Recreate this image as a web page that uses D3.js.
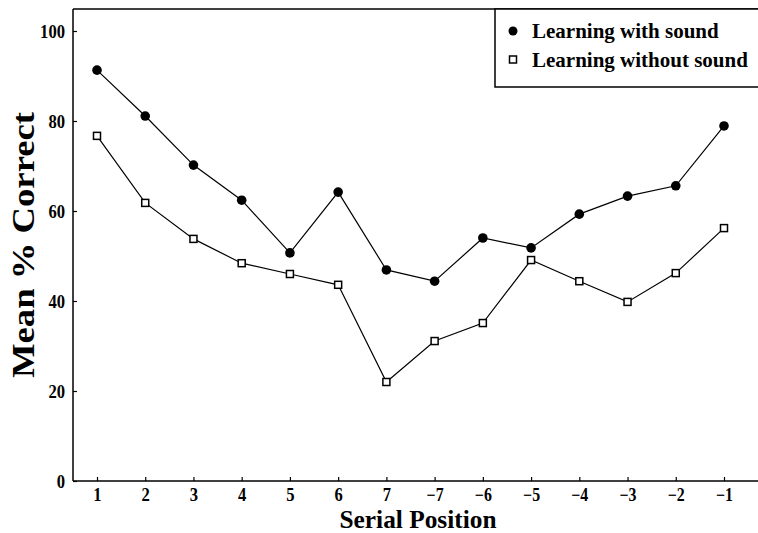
<!DOCTYPE html>
<html>
<head>
<meta charset="utf-8">
<script src="https://cdn.jsdelivr.net/npm/d3@7"></script>
<style>
  body { margin: 0; background: #fff; }
  text { font-family: "Liberation Serif", "DejaVu Serif", serif; font-weight: bold; }
</style>
</head>
<body>
<div id="chart"></div>
<script>
const positions = ['1', '2', '3', '4', '5', '6', '7', '−7', '−6', '−5', '−4', '−3', '−2', '−1'];
const withSound = [91.3, 81.1, 70.2, 62.4, 50.7, 64.2, 46.9, 44.4, 54.0, 51.8, 59.3, 63.3, 65.6, 78.9];
const withoutSound = [76.7, 61.8, 53.8, 48.4, 46.0, 43.6, 22.0, 31.1, 35.1, 49.1, 44.4, 39.8, 46.2, 56.2];
const yTicks = [0, 20, 40, 60, 80, 100];
const seriesNames = ['Learning with sound', 'Learning without sound'];

const width = 758;
const height = 533;
const margin = { top: 9, right: 0, bottom: 52, left: 73 };

const svg = d3.select('#chart')
  .append('svg')
  .attr('width', width)
  .attr('height', height);

const x = d3.scalePoint()
  .domain(positions)
  .range([97, 724]);

const y = d3.scaleLinear()
  .domain([0, 105])
  .range([height - margin.bottom, height - margin.bottom - 105 * 4.5]);

// frame: left axis, bottom axis, top line
const frame = svg.append('g').attr('stroke', '#000').attr('stroke-width', 1.5);
frame.append('line')
  .attr('x1', margin.left).attr('x2', margin.left)
  .attr('y1', margin.top).attr('y2', y(0));
frame.append('line')
  .attr('x1', margin.left).attr('x2', width)
  .attr('y1', y(0)).attr('y2', y(0));
frame.append('line')
  .attr('x1', margin.left).attr('x2', width)
  .attr('y1', margin.top).attr('y2', margin.top);

// y axis
const yAxis = svg.append('g')
  .attr('transform', `translate(${margin.left},0)`)
  .call(d3.axisLeft(y).tickValues(yTicks).tickSize(4).tickPadding(4));
yAxis.select('.domain').remove();
yAxis.selectAll('line').attr('stroke-width', 1.2).attr('transform', 'translate(4,0)');
yAxis.selectAll('text')
  .attr('font-size', 19)
  .attr('fill', '#000')
  .attr('font-family', '"Liberation Serif", serif')
  .attr('font-weight', 'bold')
  .attr('textLength', (d) => String(d).length * 8.3)
  .attr('lengthAdjust', 'spacingAndGlyphs');

// x axis
const xAxis = svg.append('g')
  .attr('transform', `translate(0,${y(0)})`)
  .call(d3.axisBottom(x).tickSize(4).tickPadding(3));
xAxis.select('.domain').remove();
xAxis.selectAll('line').attr('stroke-width', 1.2).attr('transform', 'translate(0,-4)');
xAxis.selectAll('text')
  .attr('font-size', 18)
  .attr('fill', '#000')
  .attr('font-family', '"Liberation Serif", serif')
  .attr('font-weight', 'bold')
  .attr('textLength', (d) => (d.length > 1 ? 17 : 8.3))
  .attr('lengthAdjust', 'spacingAndGlyphs');

// axis titles
svg.append('text')
  .attr('x', 418)
  .attr('y', 528)
  .attr('text-anchor', 'middle')
  .attr('font-size', 25)
  .attr('textLength', 157)
  .attr('lengthAdjust', 'spacingAndGlyphs')
  .text('Serial Position');

svg.append('text')
  .attr('transform', 'translate(34,245) rotate(-90)')
  .attr('text-anchor', 'middle')
  .attr('font-size', 32)
  .attr('textLength', 266)
  .attr('lengthAdjust', 'spacingAndGlyphs')
  .text('Mean % Correct');

// lines
const line = d3.line()
  .x((d, i) => x(positions[i]))
  .y((d) => y(d));

svg.append('path')
  .datum(withSound)
  .attr('d', line)
  .attr('fill', 'none')
  .attr('stroke', '#000')
  .attr('stroke-width', 1.2);

svg.append('path')
  .datum(withoutSound)
  .attr('d', line)
  .attr('fill', 'none')
  .attr('stroke', '#000')
  .attr('stroke-width', 1.2);

svg.append('g')
  .selectAll('circle')
  .data(withSound)
  .join('circle')
  .attr('cx', (d, i) => x(positions[i]))
  .attr('cy', (d) => y(d))
  .attr('r', 4.8)
  .attr('fill', '#000');

svg.append('g')
  .selectAll('rect')
  .data(withoutSound)
  .join('rect')
  .attr('x', (d, i) => x(positions[i]) - 3.5)
  .attr('y', (d) => y(d) - 3.5)
  .attr('width', 7)
  .attr('height', 7)
  .attr('fill', '#fff')
  .attr('stroke', '#000')
  .attr('stroke-width', 1.5);

// legend
const legend = svg.append('g');
legend.append('rect')
  .attr('x', 495)
  .attr('y', margin.top)
  .attr('width', width - 495 + 2)
  .attr('height', 78)
  .attr('fill', '#fff')
  .attr('stroke', '#000')
  .attr('stroke-width', 1.5);

legend.append('circle')
  .attr('cx', 513).attr('cy', 31).attr('r', 4.5).attr('fill', '#000');
legend.append('rect')
  .attr('x', 509.5).attr('y', 56).attr('width', 7).attr('height', 7)
  .attr('fill', '#fff').attr('stroke', '#000').attr('stroke-width', 1.5);

legend.selectAll('text.leg')
  .data(seriesNames)
  .join('text')
  .attr('class', 'leg')
  .attr('x', 532)
  .attr('y', (d, i) => 38 + i * 28.5)
  .attr('font-size', 21)
  .text((d) => d);
</script>
</body>
</html>
